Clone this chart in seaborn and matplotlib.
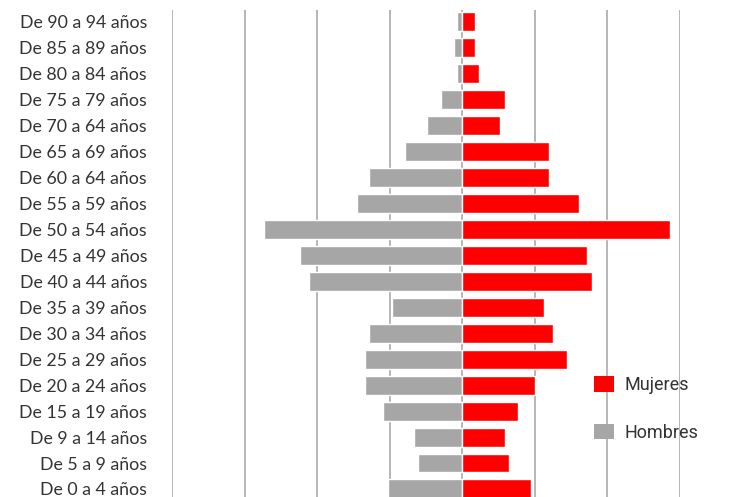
import matplotlib
matplotlib.use("Agg")
import matplotlib.pyplot as plt
from matplotlib.patches import Patch
import seaborn as sns
import pandas as pd

grupos = ["De 90 a 94 años", "De 85 a 89 años", "De 80 a 84 años", "De 75 a 79 años",
          "De 70 a 64 años", "De 65 a 69 años", "De 60 a 64 años", "De 55 a 59 años",
          "De 50 a 54 años", "De 45 a 49 años", "De 40 a 44 años", "De 35 a 39 años",
          "De 30 a 34 años", "De 25 a 29 años", "De 20 a 24 años", "De 15 a 19 años",
          "De 9 a 14 años", "De 5 a 9 años", "De 0 a 4 años"]
mujeres = [0.17, 0.17, 0.23, 0.59, 0.52, 1.20, 1.20, 1.61, 2.86, 1.72, 1.79, 1.13,
           1.25, 1.44, 1.00, 0.77, 0.59, 0.65, 0.95]
hombres = [0.07, 0.12, 0.07, 0.30, 0.48, 0.79, 1.28, 1.45, 2.73, 2.23, 2.11, 0.97,
           1.28, 1.34, 1.34, 1.09, 0.66, 0.61, 1.02]

df = pd.DataFrame({"grupo": grupos, "mujeres": mujeres,
                   "hombres": [-h for h in hombres]})

sns.set_theme(style="white")
plt.rcParams["font.family"] = ["Lato", "DejaVu Sans"]

W, H = 731, 497
fig = plt.figure(figsize=(W / 100, H / 100), dpi=100)
ax = fig.add_axes([172 / W, 0, (680 - 172) / W, 1 - 10 / H])

RED = "#FF0000"
GRAY = "#A6A6A6"

sns.barplot(data=df, x="hombres", y="grupo", orient="h", color=GRAY,
            width=0.73, ax=ax, saturation=1, zorder=3)
sns.barplot(data=df, x="mujeres", y="grupo", orient="h", color=RED,
            width=0.73, ax=ax, saturation=1, zorder=3)

ax.set_xlim(-4, 3)
ax.set_ylim(18.31, -0.46)
ax.set_xticks(range(-4, 4))
ax.set_xticklabels([])
ax.grid(axis="x", color="#B0B0B0", lw=1.3, zorder=0)
ax.set_axisbelow(True)
ax.tick_params(axis="y", length=0, pad=18, labelsize=12.8, labelcolor="#333333")
ax.tick_params(axis="x", length=0)
ax.set_xlabel("")
ax.set_ylabel("")
for s in ax.spines.values():
    s.set_visible(False)

handles = [Patch(facecolor=RED, edgecolor="none", label="Mujeres"),
           Patch(facecolor=GRAY, edgecolor="none", label="Hombres")]
leg = fig.legend(handles=handles, loc="upper left",
                 bbox_to_anchor=(594 / W, 1 - 376 / H), bbox_transform=fig.transFigure,
                 frameon=False, handlelength=1.1, handleheight=0.95,
                 labelspacing=1.65, handletextpad=0.6, borderpad=0, borderaxespad=0,
                 prop={"family": ["Roboto", "DejaVu Sans"], "size": 13})
for t in leg.get_texts():
    t.set_color("#333333")

fig.savefig("out.png", dpi=100)
